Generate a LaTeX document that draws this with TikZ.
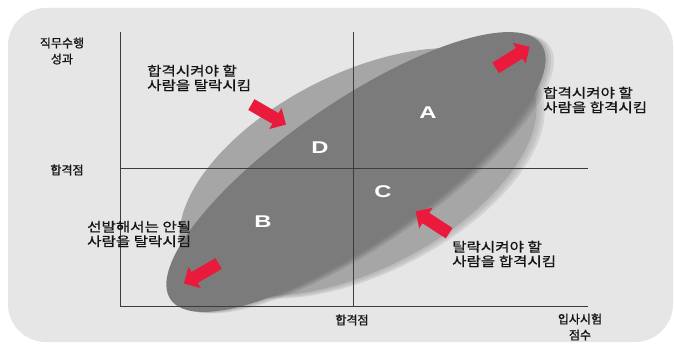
\documentclass[tikz,border=0pt]{standalone}
\usepackage{fontspec}
\setmainfont{Liberation Sans}
\newfontfamily\kr[FakeBold=1.2]{Noto Sans CJK KR}
\newfontfamily\krw[FakeStretch=1.2,FakeBold=0.8]{Noto Sans CJK KR}
\newfontfamily\letf[FakeStretch=1.4]{Liberation Sans Bold}
\usetikzlibrary{shapes.arrows}
\definecolor{bgc}{HTML}{E6E6E6}
\definecolor{lightc}{HTML}{A6A6A6}
\definecolor{darkc}{HTML}{7B7B7B}
\definecolor{redc}{HTML}{E91A3C}
\definecolor{linec}{HTML}{3C3C3C}
\definecolor{txtc}{HTML}{141414}
\begin{document}
\begin{tikzpicture}[x=1pt,y=-1pt,
  axisline/.style={draw=linec, line width=0.9pt},
  letter/.style={text=white, font=\letf\fontsize{17}{17}\selectfont, inner sep=0pt},
  annot/.style={text=txtc, font=\krw\fontsize{13}{14.5}\selectfont, align=left, anchor=west, inner sep=0pt},
  axlabel/.style={text=txtc, font=\kr\fontsize{12}{16}\selectfont, align=center, inner sep=0pt},
  redarr/.style={single arrow, fill=redc, draw=none, minimum height=40pt,
    text height=6pt, text depth=6pt, text width=0pt,
    single arrow head extend=6pt, single arrow head indent=0pt, inner sep=0pt}
]
\useasboundingbox (0,0) rectangle (674,345);
\fill[white] (0,0) rectangle (674,345);
\fill[bgc, rounded corners=38pt] (8,8) rectangle (673,342);

% ellipses
\coordinate (lc) at (358,172);
\coordinate (dc) at (356,172);
\fill[lightc, rotate around={27:(lc)}] (lc) ellipse [x radius=194, y radius=98];
\foreach \s in {2,4,6} {
  \fill[lightc, opacity=0.3, rotate around={27:(lc)}] ([shift={(\s,\s)}]lc) ellipse [x radius=194, y radius=98];
}
\foreach \s in {2,4,6} {
  \fill[black, opacity=0.08, rotate around={34.5:(dc)}] ([shift={(\s,\s)}]dc) ellipse [x radius=225, y radius=70];
}
\fill[darkc, rotate around={34.5:(dc)}] (dc) ellipse [x radius=225, y radius=70];

% axes
\coordinate (ytop) at (120,32);
\coordinate (o) at (120,306);
\coordinate (xend) at (588,306);
\coordinate (cy1) at (120,168);
\coordinate (cy2) at (588,168);
\coordinate (cx1) at (353,32);
\coordinate (cx2) at (353,306);
\draw[axisline] (ytop) -- (o) -- (xend);
\draw[axisline] (cy1) -- (cy2);
\draw[axisline] (cx1) -- (cx2);

% letters
\node[letter] (A) at (428,113) {A};
\node[letter] (D) at (320,148) {D};
\node[letter] (C) at (383,192) {C};
\node[letter] (B) at (263,222) {B};

% arrows
\node[redarr, rotate=-30] (ar1) at (266,113) {};
\node[redarr, rotate=32] (ar2) at (510,59) {};
\node[redarr, rotate=210] (ar3) at (204,272) {};
\node[redarr, rotate=147] (ar4) at (435,224) {};

% annotations
\node[annot] (t1) at (147,78) {합격시켜야 할\\사람을 탈락시킴};
\node[annot] (t2) at (543,100) {합격시켜야 할\\사람을 합격시킴};
\node[annot] (t3) at (87,234) {선발해서는 안될\\사람을 탈락시킴};
\node[annot] (t4) at (452,254) {탈락시켜야 할\\사람을 합격시킴};

% axis labels
\node[axlabel] (yl) at (62,51) {직무수행\\성과};
\node[axlabel] (yc) at (67,170) {합격점};
\node[axlabel] (xc) at (352,320) {합격점};
\node[axlabel] (xl) at (580,327) {입사시험\\점수};
\end{tikzpicture}
\end{document}
